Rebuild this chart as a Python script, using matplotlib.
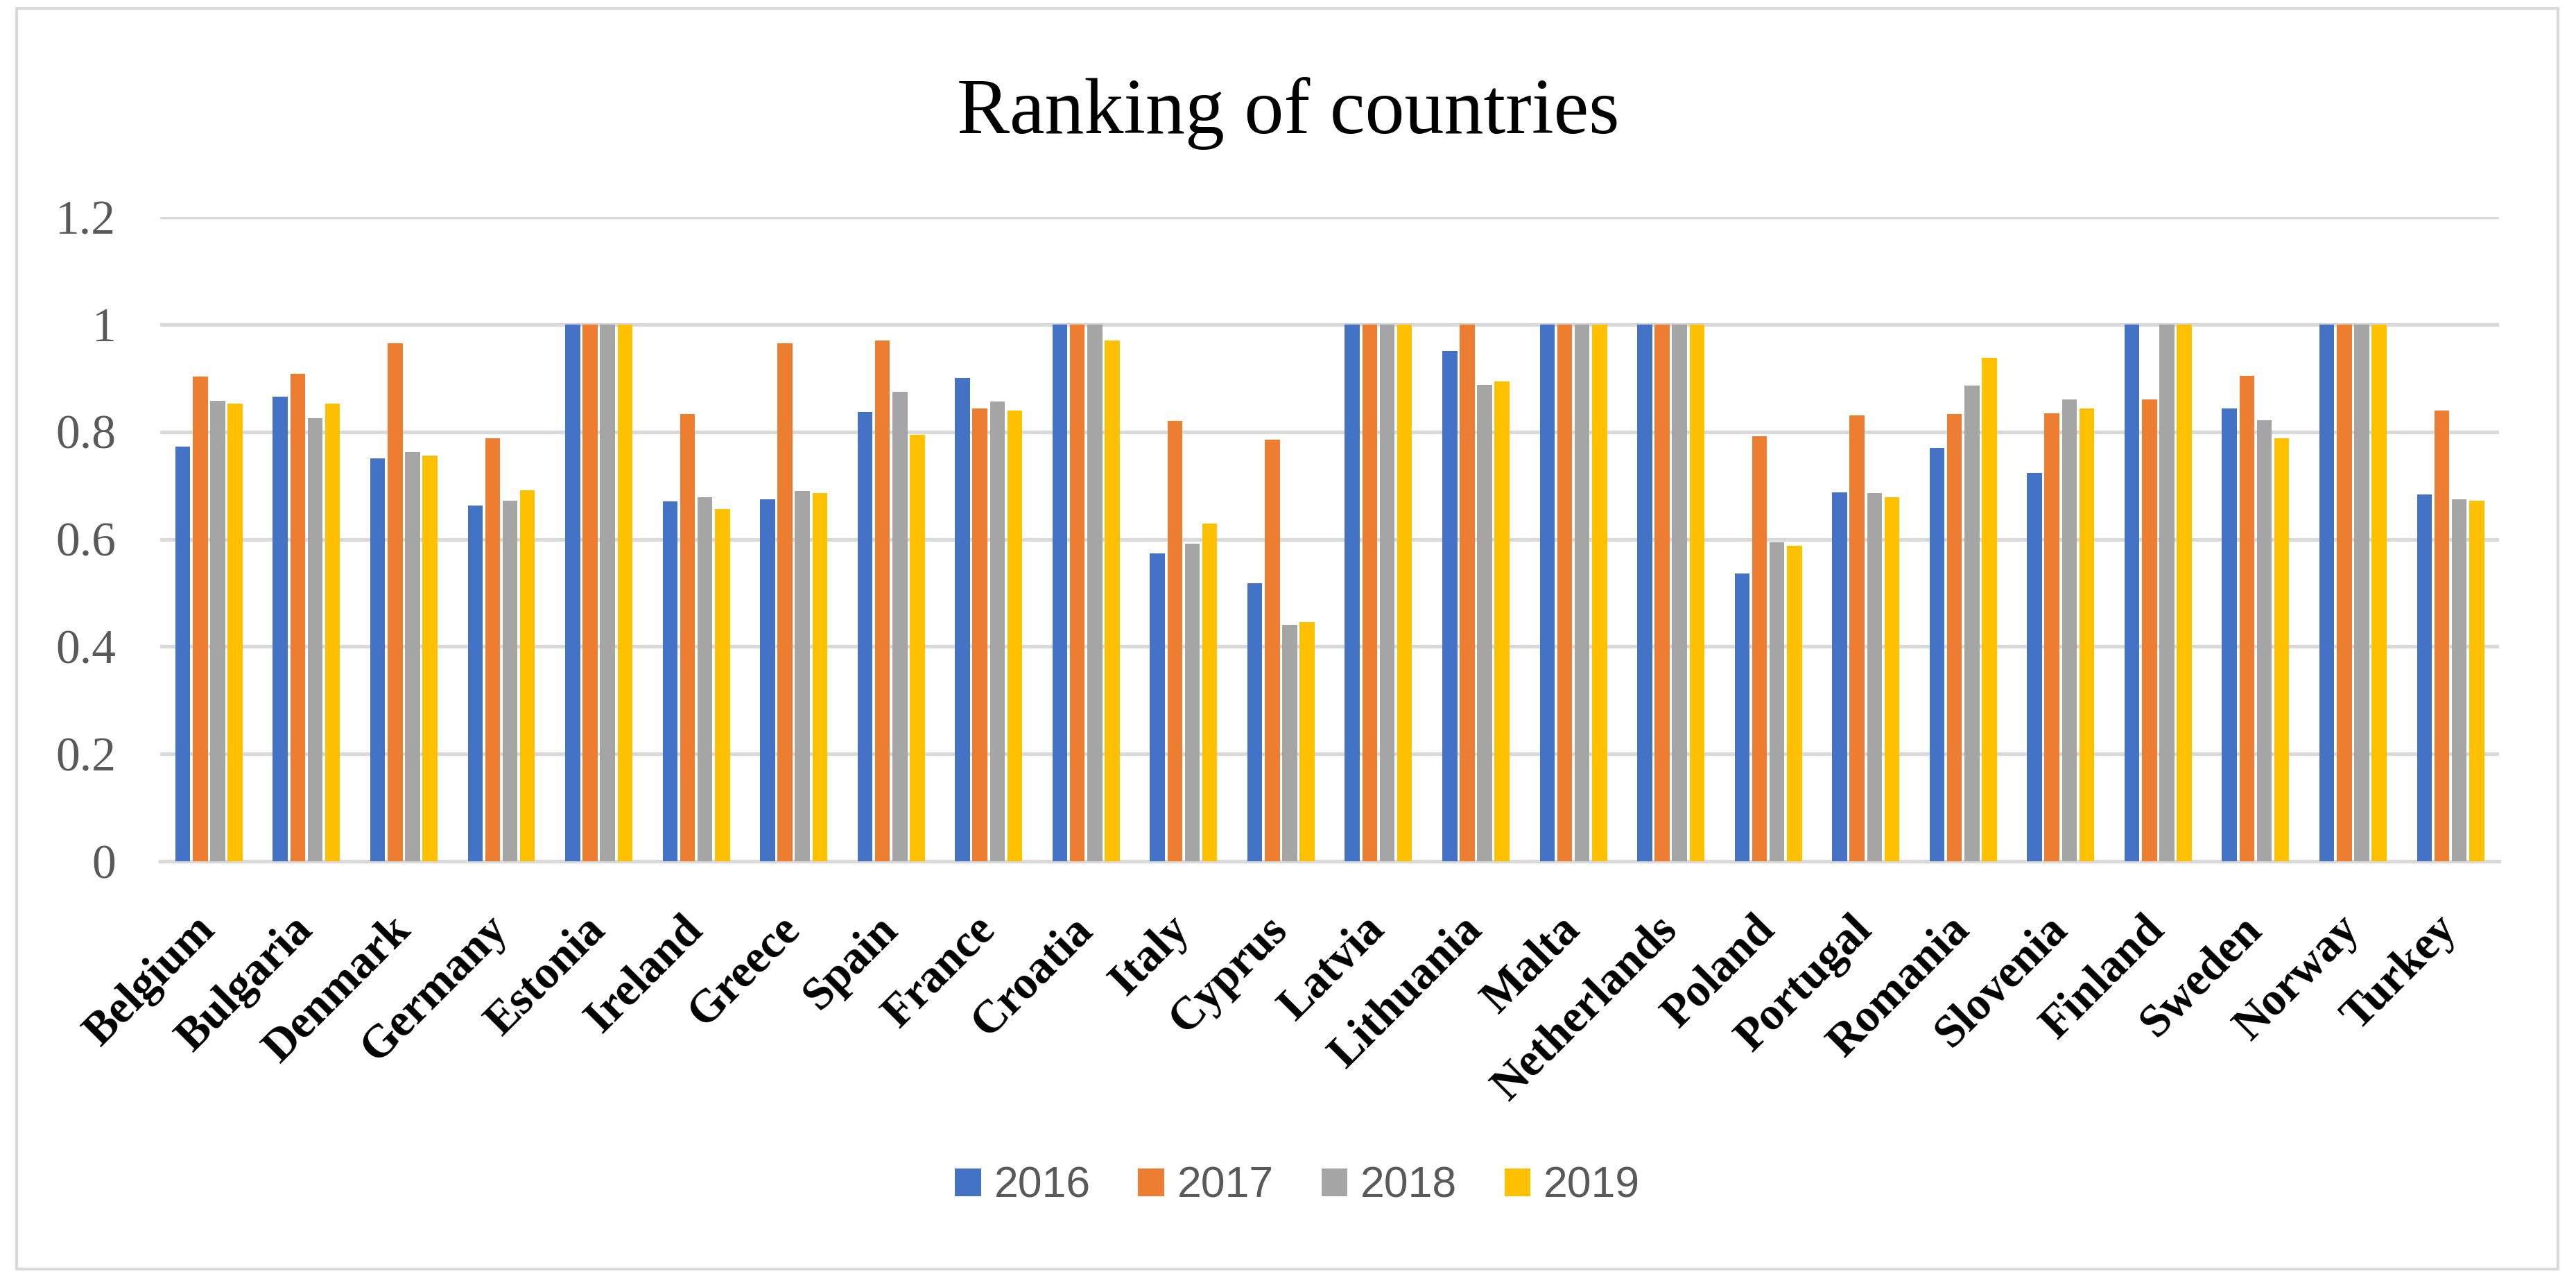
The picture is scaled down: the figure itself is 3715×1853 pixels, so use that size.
import numpy as np
import matplotlib
matplotlib.use("Agg")
import matplotlib.pyplot as plt
from matplotlib.patches import Rectangle

# data
countries = ["Belgium", "Bulgaria", "Denmark", "Germany", "Estonia", "Ireland",
             "Greece", "Spain", "France", "Croatia", "Italy", "Cyprus", "Latvia",
             "Lithuania", "Malta", "Netherlands", "Poland", "Portugal", "Romania",
             "Slovenia", "Finland", "Sweden", "Norway", "Turkey"]
years = ["2016", "2017", "2018", "2019"]

v2016 = [0.772, 0.865, 0.751, 0.663, 1.0, 0.670, 0.674, 0.837, 0.900, 1.0, 0.574, 0.518,
         1.0, 0.951, 1.0, 1.0, 0.536, 0.687, 0.770, 0.723, 1.0, 0.844, 1.0, 0.683]
v2017 = [0.903, 0.908, 0.965, 0.788, 1.0, 0.833, 0.965, 0.970, 0.844, 1.0, 0.820, 0.786,
         1.0, 1.0, 1.0, 1.0, 0.792, 0.831, 0.833, 0.834, 0.860, 0.904, 1.0, 0.840]
v2018 = [0.858, 0.826, 0.762, 0.672, 1.0, 0.678, 0.690, 0.874, 0.856, 1.0, 0.592, 0.440,
         1.0, 0.887, 1.0, 1.0, 0.594, 0.686, 0.886, 0.860, 1.0, 0.822, 1.0, 0.674]
v2019 = [0.852, 0.853, 0.756, 0.691, 1.0, 0.656, 0.686, 0.794, 0.840, 0.970, 0.629, 0.446,
         1.0, 0.894, 1.0, 1.0, 0.588, 0.678, 0.938, 0.844, 1.0, 0.788, 1.0, 0.672]
yticks = [0, 0.2, 0.4, 0.6, 0.8, 1, 1.2]
ytick_labels = ["0", "0.2", "0.4", "0.6", "0.8", "1", "1.2"]

series = [v2016, v2017, v2018, v2019]
colors = ["#4472C4", "#ED7D31", "#A5A5A5", "#FFC000"]

fig = plt.figure(figsize=(37.15, 18.53), dpi=100)
ax = fig.add_axes([0.0622, 0.3297, 0.908, 0.5014])

x = np.arange(len(countries))
w = 0.153
pitch = 0.179
for i, (vals, col, yr) in enumerate(zip(series, colors, years)):
    ax.bar(x + (i - 1.5) * pitch, vals, width=w, color=col, label=yr, zorder=3)

ax.set_xlim(-0.5, len(countries) - 0.5)
ax.set_ylim(0, 1.2)
ax.set_yticks(yticks)
ax.set_yticklabels(ytick_labels, fontfamily="Liberation Serif", fontsize=50, color="#595959")
ax.tick_params(axis="y", length=0, pad=46)
ax.grid(axis="y", color="#D9D9D9", linewidth=3.8, zorder=0)
for s in ["top", "right", "left"]:
    ax.spines[s].set_visible(False)
ax.spines["bottom"].set_color("#D9D9D9")
ax.spines["bottom"].set_linewidth(3.8)

ax.set_xticks(x)
ax.set_xticklabels(countries, rotation=45, ha="right", va="center", rotation_mode="anchor",
                   fontfamily="Liberation Serif", fontweight="bold", fontsize=48, color="black")
ax.tick_params(axis="x", length=0, pad=64)

fig.text(0.5, 0.8964, "Ranking of countries", ha="center", va="baseline",
         fontfamily="Liberation Serif", fontsize=82, color="black")

leg = fig.legend(loc="center", bbox_to_anchor=(0.5037, 0.077), ncol=4, frameon=False,
                 prop={"family": "Liberation Sans", "size": 45},
                 handlelength=0.6, handleheight=0.6, handletextpad=0.3, columnspacing=1.1)
for t in leg.get_texts():
    t.set_color("#595959")

# outer chart border
fig.patches.append(Rectangle((24 / 3715, 1 - 1830 / 1853), (3689 - 24) / 3715, (1830 - 12) / 1853,
                             transform=fig.transFigure, fill=False, edgecolor="#D9D9D9", linewidth=3))

fig.savefig("out.png", dpi=100, facecolor="white")
